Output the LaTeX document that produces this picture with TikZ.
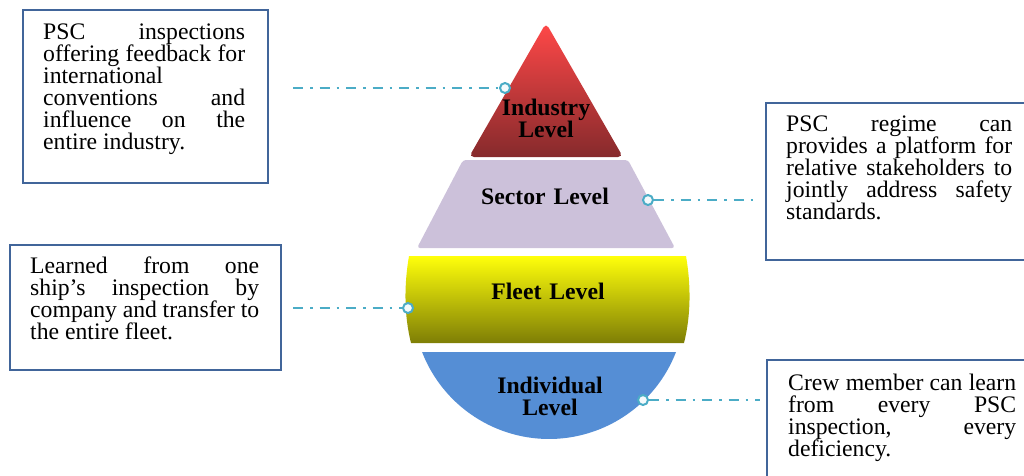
\documentclass[tikz,border=0pt]{standalone}
\usepackage{fontspec}
\setmainfont{Liberation Serif}
\usetikzlibrary{positioning}
\tolerance=10000
\hyphenpenalty=10000
\definecolor{framecol}{HTML}{41659A}
\definecolor{linkcol}{HTML}{4BACC6}
\definecolor{sectcol}{HTML}{CCC1DA}
\definecolor{indcol}{HTML}{558ED5}
\definecolor{redtop}{HTML}{FF4848}
\definecolor{redbot}{HTML}{862A2C}
\definecolor{yeltop}{HTML}{FFFF0A}
\definecolor{yelbot}{HTML}{7E7E06}
\tikzset{
  frame/.style={draw=framecol, line width=2.4pt, inner sep=0pt, anchor=north west},
  note/.style={inner sep=0pt, anchor=base west, align=justify,
    font=\fontsize{23.7}{22}\selectfont},
  level/.style={inner sep=0pt, anchor=base, align=center, text width=150pt,
    font=\bfseries\fontsize{23.7}{22}\selectfont},
  link/.style={linkcol, line width=2pt, dash pattern=on 10pt off 7pt on 2.5pt off 7pt},
  dot/.style={circle, draw=linkcol, fill=white!94!linkcol, line width=2pt,
    minimum size=10pt, inner sep=0pt}
}
\begin{document}
\begin{tikzpicture}[x=1pt, y=-1pt]
  \useasboundingbox (0,0) rectangle (1024,475);
  % the drop
  \shade[top color=redtop, bottom color=redbot, rounded corners=5pt]
    (546,23) -- (623,157) -- (469,157) -- cycle;
  \fill[sectcol, rounded corners=3pt] (463,160) -- (628,160) -- (675,248) -- (417,248) -- cycle;
  \shade[top color=yeltop, bottom color=yelbot]
    (409,256) -- (686,256) .. controls (691,285) and (691,315) .. (684,343)
    -- (411,343) .. controls (404,315) and (404,285) .. (409,256) -- cycle;
  \fill[indcol] (422,352) -- (676,352) arc[start angle=338.8, end angle=201.2, radius=136.2pt] -- cycle;
  % levels
  \node[level] (ind) at (546,115) {Industry\\Level};
  \node[level] (sec) at (545,204) {Sector Level};
  \node[level] (flt) at (548,299) {Fleet Level};
  \node[level] (idv) at (550,393) {Individual\\Level};
  % frames
  \node[frame, minimum width=245pt, minimum height=173pt] (f1) at (22,9) {};
  \node[frame, minimum width=271pt, minimum height=125pt] (f3) at (9,244) {};
  \node[frame, minimum width=270pt, minimum height=157pt] (f2) at (765,102) {};
  \node[frame, minimum width=270pt, minimum height=130pt] (f4) at (766,359) {};
  % notes
  \node[note, text width=202pt] (t1) at (43,39)
    {PSC inspections\linebreak offering feedback for\linebreak international\newline
     conventions and\linebreak influence on the\linebreak entire industry.};
  \node[note, text width=229pt] (t3) at (30,273)
    {Learned from one\linebreak ship's inspection by\linebreak company and transfer to\linebreak
     the entire fleet.};
  \node[note, text width=226pt] (t2) at (786,131)
    {PSC regime can\linebreak provides a platform for\linebreak relative stakeholders to\linebreak
     jointly address safety\linebreak standards.};
  \node[note, text width=228pt] (t4) at (788,390)
    {Crew member can learn\linebreak from every PSC\linebreak inspection, every\linebreak
     deficiency.};
  % connectors
  \node[dot] (d1) at (505,88) {};
  \node[dot] (d2) at (648,200) {};
  \node[dot] (d3) at (408,308) {};
  \node[dot] (d4) at (643,400) {};
  \coordinate (c1) at (293,88);
  \coordinate (c2) at (756,200);
  \coordinate (c3) at (293,308);
  \coordinate (c4) at (760,400);
  \begin{scope}[link]
    \draw (c1) -- (d1);
    \draw (d2) -- (c2);
    \draw (c3) -- (d3);
    \draw (d4) -- (c4);
  \end{scope}
\end{tikzpicture}
\end{document}
